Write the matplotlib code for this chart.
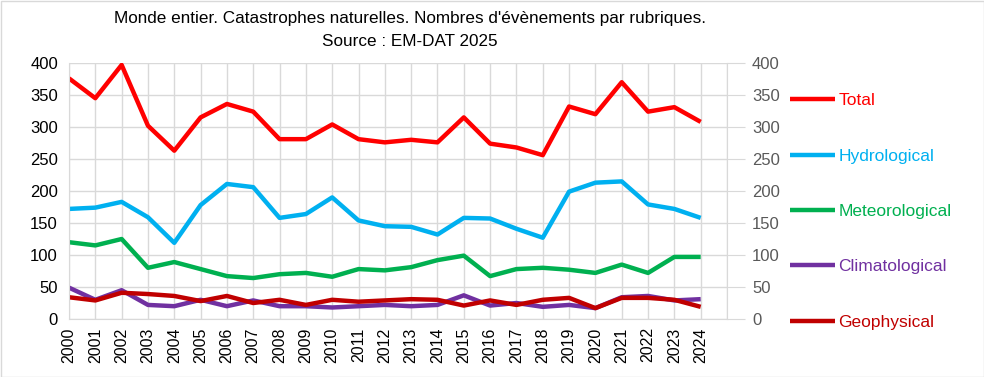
import matplotlib.pyplot as plt
from matplotlib.patches import Rectangle

years = list(range(2000, 2025))
total = [376, 345, 397, 302, 263, 315, 336, 324, 281, 281, 304, 281, 276,
         280, 276, 315, 274, 268, 256, 332, 320, 370, 324, 331, 308]
hydro = [172, 174, 183, 159, 119, 178, 211, 206, 158, 164, 190, 154, 145,
         144, 132, 158, 157, 141, 127, 199, 213, 215, 179, 172, 158]
meteo = [120, 115, 125, 80, 89, 78, 67, 64, 70, 72, 66, 78, 76,
         81, 92, 99, 67, 78, 80, 77, 72, 85, 72, 97, 97]
clim = [49, 30, 45, 22, 20, 30, 20, 29, 20, 20, 18, 20, 22,
        20, 22, 37, 21, 25, 19, 22, 17, 34, 36, 29, 31]
geo = [34, 29, 41, 39, 36, 28, 36, 25, 30, 22, 30, 27, 29,
       31, 30, 21, 29, 22, 30, 33, 17, 33, 33, 30, 19]

labels = ['Total', 'Hydrological', 'Meteorological', 'Climatological', 'Geophysical']
colors = ['#FF0000', '#00B0F0', '#00B050', '#7030A0', '#C00000']

plt.rcParams['font.family'] = ['Liberation Sans', 'DejaVu Sans']

fig = plt.figure(figsize=(9.84, 3.77), dpi=100)
ax = fig.add_axes([69/984, 1-319/377, (727-69)/984, (319-63)/377])

# draw order: geophysical on top like the original
for vals, lab, col in zip([total, hydro, meteo, clim, geo], labels, colors):
    ax.plot(years, vals, color=col, lw=3.2, label=lab, solid_capstyle='butt')

ax.set_xlim(2000, 2025)
ax.set_ylim(0, 400)
ax.set_xticks(range(2000, 2026))
ax.set_xticklabels([str(y) for y in years] + [''], rotation=90)
ax.set_yticks(range(0, 401, 50))
ax.grid(True, color='#D9D9D9', lw=1)
ax.set_axisbelow(True)
for s in ['top', 'right']:
    ax.spines[s].set_visible(False)
ax.spines['left'].set_color('#D9D9D9')
ax.spines['bottom'].set_color('#D9D9D9')
ax.tick_params(axis='both', length=0, colors='black')
ax.tick_params(axis='y', pad=8, labelsize=12)
ax.tick_params(axis='x', pad=6, labelsize=11.5)

ax2 = ax.twinx()
ax2.set_ylim(0, 400)
ax2.set_yticks(range(0, 401, 50))
for s in ['top', 'left', 'bottom']:
    ax2.spines[s].set_visible(False)
ax2.spines['right'].set_color('#D9D9D9')
ax2.tick_params(axis='y', length=13, color='#D9D9D9', labelsize=12,
                labelcolor='#595959', pad=5)

leg = ax.legend(loc='upper left', bbox_to_anchor=(790/984, 1-93/377),
                bbox_transform=fig.transFigure, frameon=False, fontsize=12.5,
                handlelength=2.6, handletextpad=0.2, labelspacing=2.32,
                borderpad=0, borderaxespad=0)
for txt, col in zip(leg.get_texts(), colors):
    txt.set_color(col)

fig.text(410/984, 1-18/377, "Monde entier. Catastrophes naturelles. Nombres d'évènements par rubriques.",
         ha='center', va='center', fontsize=12.3)
fig.text(410/984, 1-42/377, "Source : EM-DAT 2025", ha='center', va='center', fontsize=12.3)

fig.add_artist(Rectangle((0.5/984, 0.5/377), 1-1/984, 1-1/377, transform=fig.transFigure,
                         fill=False, edgecolor='#D9D9D9', lw=1))

fig.savefig('out.png', dpi=100)
